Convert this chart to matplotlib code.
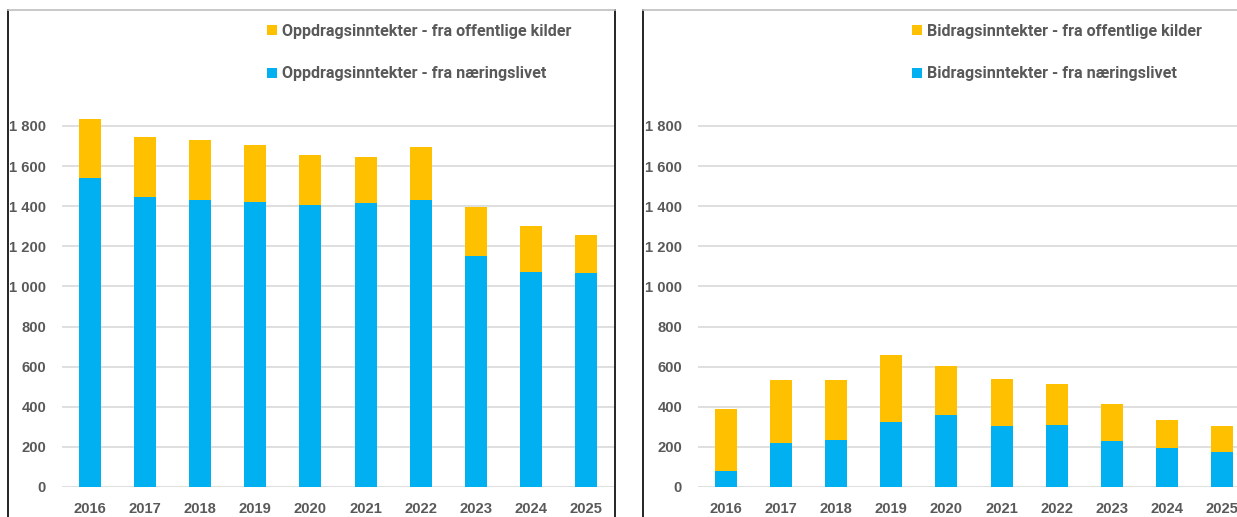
import matplotlib
matplotlib.use("Agg")
import matplotlib.pyplot as plt
from matplotlib.patches import Patch
from matplotlib.lines import Line2D
from matplotlib.ticker import FuncFormatter

years = ["2016", "2017", "2018", "2019", "2020", "2021", "2022", "2023", "2024", "2025"]

# Oppdragsinntekter (left panel)
oppdrag_naering = [1538, 1445, 1432, 1422, 1408, 1414, 1429, 1153, 1073, 1069]
oppdrag_total = [1835, 1745, 1728, 1703, 1655, 1647, 1697, 1394, 1300, 1255]
oppdrag_offentlig = [t - n for t, n in zip(oppdrag_total, oppdrag_naering)]

# Bidragsinntekter (right panel)
bidrag_naering = [81, 221, 233, 322, 358, 306, 311, 228, 196, 175]
bidrag_total = [391, 534, 534, 659, 601, 540, 513, 415, 336, 306]
bidrag_offentlig = [t - n for t, n in zip(bidrag_total, bidrag_naering)]

yticks = [0, 200, 400, 600, 800, 1000, 1200, 1400, 1600, 1800]

BLUE = "#00B0F0"
YELLOW = "#FFC000"
GRAY_TXT = "#595959"
GRID = "#D9D9D9"

W, H = 1237, 517
fig = plt.figure(figsize=(W / 100, H / 100), dpi=100)

tick_font = dict(family=["Liberation Sans", "DejaVu Sans"], weight="bold", size=10.6)
leg_font = {"family": ["Roboto", "Liberation Sans"], "weight": "bold", "size": 11.6}


def px_x(x):
    return x / W


def px_y(y):
    return 1 - y / H


def draw_panel(left_px, naering, offentlig, lab_off, lab_nae, leg_x):
    ax = fig.add_axes([px_x(left_px), px_y(487), 552 / W, 401.2 / H])
    x = list(range(len(years)))
    ax.bar(x, naering, width=0.4, color=BLUE, zorder=3)
    ax.bar(x, offentlig, bottom=naering, width=0.4, color=YELLOW, zorder=3)
    ax.set_xlim(-0.5, len(years) - 0.5)
    ax.set_ylim(0, 2000)
    ax.set_yticks(yticks)
    ax.yaxis.set_major_formatter(FuncFormatter(lambda v, p: f"{int(v):,}".replace(",", " ")))
    ax.set_xticks(x)
    ax.set_xticklabels(years)
    for lab in ax.get_xticklabels() + ax.get_yticklabels():
        lab.set_fontproperties(tick_font)
        lab.set_color(GRAY_TXT)
    ax.tick_params(axis="both", length=0)
    ax.tick_params(axis="y", pad=11.5)
    ax.tick_params(axis="x", pad=11)
    ax.grid(axis="y", color=GRID, linewidth=1.2, zorder=0)
    for s in ax.spines.values():
        s.set_visible(False)
    handles = [Patch(facecolor=YELLOW, edgecolor="none", label=lab_off),
               Patch(facecolor=BLUE, edgecolor="none", label=lab_nae)]
    leg = ax.legend(handles=handles, loc="upper left",
                    bbox_to_anchor=(px_x(leg_x), px_y(24)), bbox_transform=fig.transFigure,
                    frameon=False, prop=leg_font, handlelength=0.6, handleheight=0.6,
                    handletextpad=0.35, labelspacing=1.7, borderpad=0, borderaxespad=0)
    for t in leg.get_texts():
        t.set_color(GRAY_TXT)
    return ax


draw_panel(62, oppdrag_naering, oppdrag_offentlig,
           "Oppdragsinntekter - fra offentlige kilder",
           "Oppdragsinntekter - fra næringslivet", 267)
draw_panel(698, bidrag_naering, bidrag_offentlig,
           "Bidragsinntekter - fra offentlige kilder",
           "Bidragsinntekter - fra næringslivet", 912)

# panel frames
frame_lines = [
    ((8, 8), (10, 517), "#000000"),
    ((615, 615), (10, 517), "#000000"),
    ((8, 615), (10, 10), "#BFBFBF"),
    ((643, 643), (10, 517), "#000000"),
    ((643, 1237), (10, 10), "#BFBFBF"),
]
for xs, ys, c in frame_lines:
    fig.add_artist(Line2D([px_x(v) for v in xs], [px_y(v) for v in ys],
                          color=c, linewidth=1.2, transform=fig.transFigure))

fig.savefig("out.png", dpi=100)
